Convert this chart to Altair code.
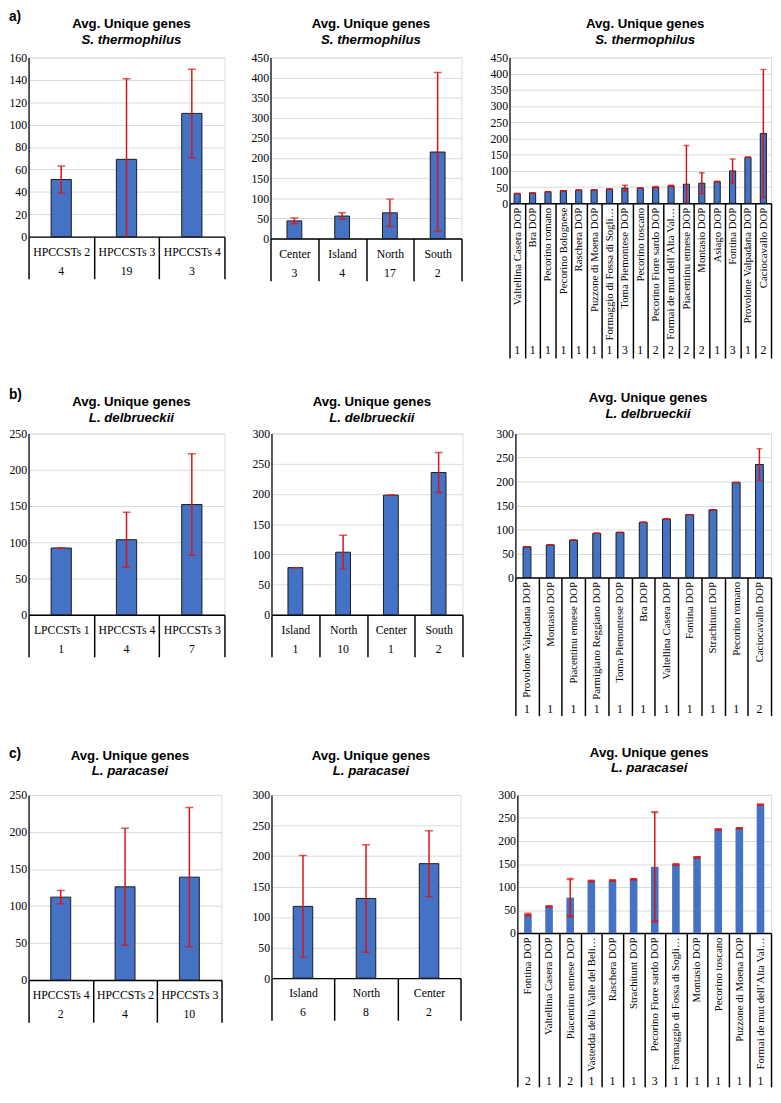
import altair as alt
import pandas as pd

RED = '#dd1111'
BLUE = '#4472C4'
TITLE = 'Avg. Unique genes'

# ---------------- Row a: S. thermophilus ----------------
a1_cats = ['HPCCSTs 2', 'HPCCSTs 3', 'HPCCSTs 4']
a1_vals = [51, 69, 110]
a1_errs = [12, 72, 39.5]
a1_n = [4, 19, 3]

a2_cats = ['Center', 'Island', 'North', 'South']
a2_vals = [44, 56, 64, 215]
a2_errs = [7, 8, 34, 197.5]
a2_n = [3, 4, 17, 2]

a3_cats = ['Valtellina Casera DOP', 'Bra DOP', 'Pecorino romano', 'Pecorino Bolognese',
           'Raschera DOP', 'Puzzone di Moena DOP', 'Formaggio di Fossa di Sogliano…',
           'Toma Piemontese DOP', 'Pecorino toscano', 'Pecorino Fiore sardo DOP',
           'Formai de mut dell’Alta Val…', 'Piacentinu ennese DOP', 'Montasio DOP',
           'Asiago DOP', 'Fontina DOP', 'Provolone Valpadana DOP', 'Caciocavallo DOP']
a3_vals = [30, 32, 36, 39, 41, 42, 44, 47, 47, 50, 54, 59, 62, 67, 100, 142, 215.5]
a3_errs = [0, 0, 0, 0, 0, 0, 0, 9, 0, 2, 2, 119, 32.5, 1, 37, 0, 197.5]
a3_n = [1, 1, 1, 1, 1, 1, 1, 3, 1, 2, 2, 2, 2, 1, 3, 1, 2]

# ---------------- Row b: L. delbrueckii ----------------
b1_cats = ['LPCCSTs 1', 'HPCCSTs 4', 'HPCCSTs 3']
b1_vals = [92, 103.5, 152]
b1_errs = [0, 38, 70]
b1_n = [1, 4, 7]

b2_cats = ['Island', 'North', 'Center', 'South']
b2_vals = [78, 103.5, 198, 235.5]
b2_errs = [0, 28, 0, 33]
b2_n = [1, 10, 1, 2]

b3_cats = ['Provolone Valpadana DOP', 'Montasio DOP', 'Piacentinu ennese DOP',
           'Parmigiano Reggiano DOP', 'Toma Piemontese DOP', 'Bra DOP',
           'Valtellina Casera DOP', 'Fontina DOP', 'Strachitunt DOP',
           'Pecorino romano', 'Caciocavallo DOP']
b3_vals = [64, 68, 78, 92, 94, 115, 122, 131, 141, 198, 235.5]
b3_errs = [0, 0, 0, 0, 0, 0, 0, 0, 0, 0, 33]
b3_n = [1, 1, 1, 1, 1, 1, 1, 1, 1, 1, 2]

# ---------------- Row c: L. paracasei ----------------
c1_cats = ['HPCCSTs 4', 'HPCCSTs 2', 'HPCCSTs 3']
c1_vals = [112, 126, 139]
c1_errs = [9, 79, 94]
c1_n = [2, 4, 10]

c2_cats = ['Island', 'North', 'Center']
c2_vals = [117.5, 130.5, 187.5]
c2_errs = [83.5, 88, 54]
c2_n = [6, 8, 2]

c3_cats = ['Fontina DOP', 'Valtellina Casera DOP', 'Piacentinu ennese DOP',
           'Vastedda della Valle del Belice…', 'Raschera DOP', 'Strachitunt DOP',
           'Pecorino Fiore sardo DOP', 'Formaggio di Fossa di Sogliano…', 'Montasio DOP',
           'Pecorino toscano', 'Puzzone di Moena DOP', 'Formai de mut dell’Alta Val…']
c3_vals = [40, 58, 77, 113, 114, 117, 144, 149, 164.5, 225, 228, 279]
c3_errs = [2, 0, 40.5, 0, 0, 0, 118.7, 0, 0, 0, 0, 0]
c3_n = [2, 1, 2, 1, 1, 1, 3, 1, 1, 1, 1, 1]


def panel(cats, vals, errs, ns, species, w, h, ymax, ystep, depth, count_dy,
          t1, tag_shift=7, rotated=False, label_limit=200, band=0.31,
          stroke='#1a1a1a', cap=8, capw=1.5, lfs=12, tag=None, label_dy=15):
    df = pd.DataFrame({'cat': cats, 'val': vals, 'err': errs,
                       'n': [str(v) for v in ns]})
    df['lo'] = df['val'] - df['err']
    df['hi'] = df['val'] + df['err']
    if rotated:
        lab = dict(labelAngle=270, labelAlign='right', labelBaseline='middle',
                   labelPadding=4 - depth, labelLimit=label_limit)
    else:
        lab = dict(labelAngle=0, labelAlign='center', labelBaseline='middle',
                   labelPadding=label_dy - depth)
    xax = alt.Axis(title=None, tickBand='extent', ticks=True, tickSize=depth,
                   tickColor='black', tickWidth=1.5, domainColor='black',
                   domainWidth=1.5, labelFont='Liberation Serif', labelFontSize=lfs,
                   labelColor='black', grid=False, labelOverlap=False, **lab)
    x = alt.X('cat:N', sort=cats, scale=alt.Scale(paddingInner=0, paddingOuter=0),
              axis=xax)
    yax = alt.Axis(title=None, values=list(range(0, ymax + 1, ystep)), grid=True,
                   gridColor='#d9d9d9', gridWidth=1, ticks=False,
                   domainColor='#262626', domainWidth=1.5, labelOverlap=False,
                   labelFont='Liberation Serif', labelFontSize=12,
                   labelColor='black', labelPadding=2, minExtent=20, maxExtent=20)
    ysc = alt.Scale(domain=[0, ymax], nice=False)

    def Y(field):
        return alt.Y(field, scale=ysc, axis=yax)

    base = alt.Chart(df)
    bar_kw = dict(width={'band': band}, color=BLUE)
    if stroke:
        bar_kw.update(stroke=stroke, strokeWidth=1)
    bars = base.mark_bar(**bar_kw).encode(x=x, y=Y('val:Q'))
    rule = base.mark_rule(color=RED, strokeWidth=1.5, clip=True).encode(
        x=x, y=Y('lo:Q'), y2='hi:Q')
    caphi = base.mark_tick(color=RED, thickness=capw, size=cap, clip=True,
                           orient='horizontal').encode(x=x, y=Y('hi:Q'))
    caplo = base.mark_tick(color=RED, thickness=capw, size=cap, clip=True,
                           orient='horizontal').encode(x=x, y=Y('lo:Q'))
    counts = base.mark_text(font='Liberation Serif', fontSize=12, color='black',
                            baseline='middle').encode(
        x=x, y=alt.value(h + count_dy), text='n:N')
    one = pd.DataFrame({'t1': [TITLE], 't2': [species], 'tag': [tag or '']})
    tb = alt.Chart(one)
    title1 = tb.mark_text(font='Liberation Sans', fontSize=13.5, fontWeight='bold',
                          color='black', baseline='middle').encode(
        x=alt.value(w / 2 + 5), y=alt.value(-t1), text='t1:N')
    title2 = tb.mark_text(font='Liberation Sans', fontSize=13.5, fontWeight='bold',
                          fontStyle='italic', color='black', baseline='middle').encode(
        x=alt.value(w / 2 + 5), y=alt.value(-t1 + 16), text='t2:N')
    layers = [bars, rule, caphi, caplo, counts, title1, title2]
    tag_y = -t1 - tag_shift
    if tag:
        layers.append(tb.mark_text(
            font='Liberation Sans', fontSize=14, fontWeight='bold', align='left',
            baseline='middle', color='black').encode(
            x=alt.value(-20), y=alt.value(tag_y), text='tag:N'))
    else:
        # invisible spacer keeping every panel's top edge at the tag's top edge
        layers.append(tb.mark_rule(color='white', strokeOpacity=0).encode(
            x=alt.value(w / 2), y=alt.value(tag_y - 7), y2=alt.value(tag_y - 6)))
    return alt.layer(*layers).properties(width=w, height=h)


ST = 'S. thermophilus'
LD = 'L. delbrueckii'
LP = 'L. paracasei'

a1 = panel(a1_cats, a1_vals, a1_errs, a1_n, ST, 200, 183, 160, 20, 43, 35, 34, tag='a)')
a2 = panel(a2_cats, a2_vals, a2_errs, a2_n, ST, 195, 185, 450, 50, 43, 35, 34)
a3 = panel(a3_cats, a3_vals, a3_errs, a3_n, ST, 267, 149, 450, 50, 158, 150, 34,
           rotated=True, label_limit=138, band=0.4, cap=6, lfs=11)

b1 = panel(b1_cats, b1_vals, b1_errs, b1_n, LD, 200, 185, 250, 50, 43, 35, 32,
           tag='b)')
b2 = panel(b2_cats, b2_vals, b2_errs, b2_n, LD, 195, 185, 300, 50, 43, 35, 32)
b3 = panel(b3_cats, b3_vals, b3_errs, b3_n, LD, 261, 147, 300, 50, 141, 134, 36,
           rotated=True, label_limit=124, band=0.34, cap=6, lfs=11)

c1 = panel(c1_cats, c1_vals, c1_errs, c1_n, LP, 197, 189, 250, 50, 43, 35, 40,
           tag_shift=2, tag='c)')
c2 = panel(c2_cats, c2_vals, c2_errs, c2_n, LP, 193, 187, 300, 50, 43, 35, 40,
           tag_shift=2)
c3 = panel(c3_cats, c3_vals, c3_errs, c3_n, LP, 259, 141, 300, 50, 157, 151, 43,
           tag_shift=2, rotated=True, label_limit=140, band=0.36, cap=7, capw=2.5,
           lfs=11, stroke=None)

rowA = alt.hconcat(alt.hconcat(a1, a2, spacing=24), a3, spacing=26)
rowB = alt.hconcat(alt.hconcat(b1, b2, spacing=25), b3, spacing=31)
rowC = alt.hconcat(alt.hconcat(c1, c2, spacing=28), c3, spacing=35)

chart = alt.vconcat(alt.vconcat(rowA, rowB, spacing=24), rowC, spacing=26).properties(
    padding={'top': -10, 'left': 0, 'right': 0, 'bottom': 0}
).configure_view(stroke=None).configure_axisY(labelOverlap=False).configure(
    background='white')

chart.save('out.html', embed_options={'renderer': 'svg', 'actions': False})
